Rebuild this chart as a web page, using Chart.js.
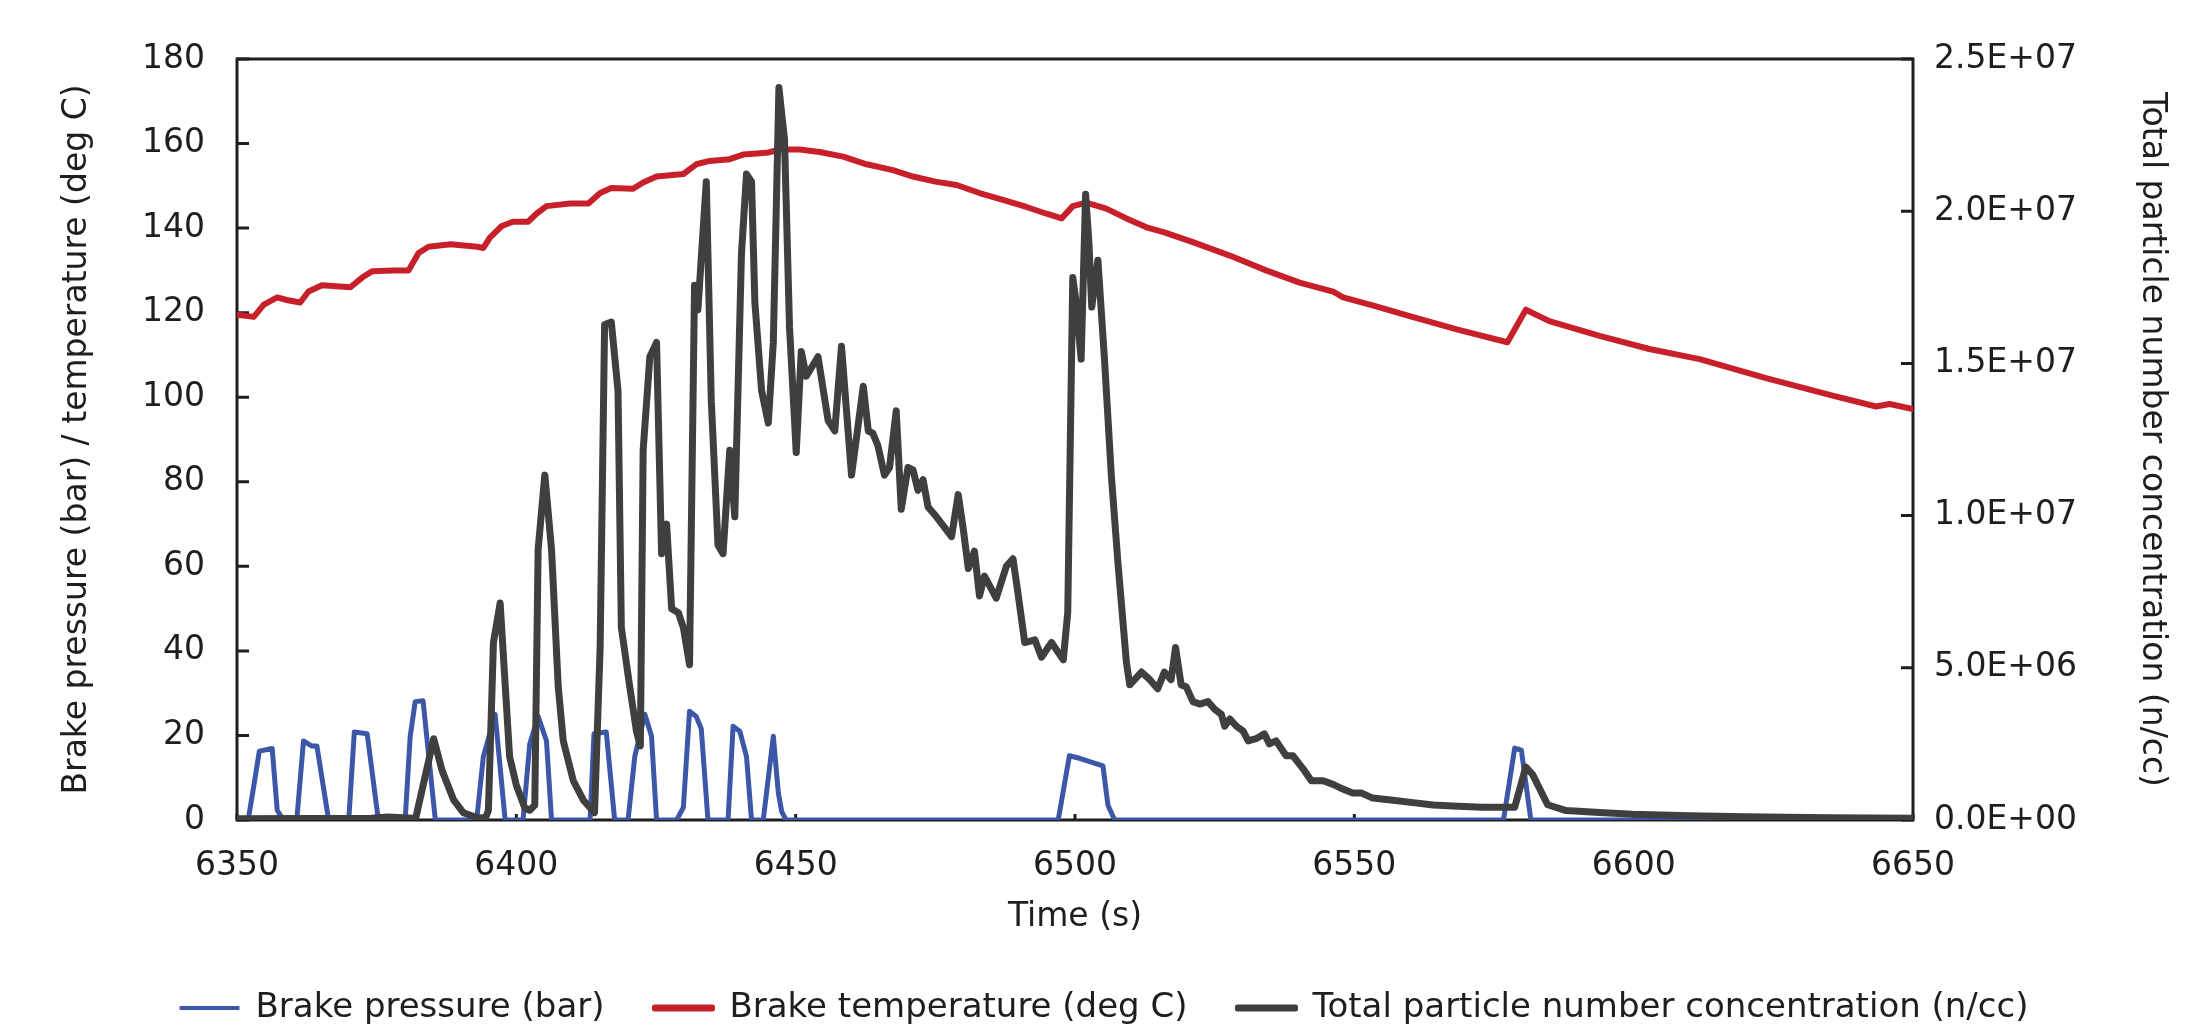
<!DOCTYPE html>
<html>
<head>
<meta charset="utf-8">
<script src="https://cdn.jsdelivr.net/npm/chart.js@4.4.1/dist/chart.umd.min.js"></script>
<style>
  html, body { margin: 0; padding: 0; background: #fff; }
  canvas { display: block; }
</style>
</head>
<body>
<canvas id="brakeChart" width="2209" height="1028"></canvas>
<script>
// brake pressure (bar)
const pressureTime = [6350, 6352, 6353, 6354, 6356.3, 6357.2, 6358.3, 6360.7, 6361.9, 6363.4, 6364.3, 6366.4,
  6370, 6371, 6373.3, 6375.3, 6380.1, 6381, 6381.9, 6383.3, 6385.5, 6392.9, 6394.1, 6396.2, 6398,
  6401.2, 6402.4, 6403.9, 6405.4, 6406.3, 6413.2, 6413.9, 6416.1, 6417.6, 6420, 6421.2, 6423, 6424.2, 6425.1,
  6428.7, 6429.9, 6431, 6432.2, 6433.1, 6434.3, 6437.9, 6438.8, 6440, 6441.2, 6442.1, 6444.2, 6446, 6446.9,
  6447.5, 6448.3, 6497, 6499, 6500.8, 6505, 6505.9, 6507.1, 6576.7, 6578.7, 6579.9, 6581.6, 6650];
const pressureBar = [0, 0, 8, 16.3, 16.9, 2.3, 0, 0, 18.7, 17.5, 17.5, 0,
  0, 20.8, 20.4, 0, 0, 19.8, 28, 28.2, 0, 0, 15, 25, 0,
  0, 18, 24.5, 18.7, 0, 0, 20.4, 20.8, 0, 0, 15, 25, 19.8, 0,
  0, 3, 25.7, 24.5, 21.6, 0, 0, 22.2, 21, 15, 0, 0, 19.8, 6.4,
  2, 0, 0, 15.2, 14.6, 12.8, 3.5, 0, 0, 17, 16.5, 0, 0];

// brake temperature (deg C)
const temperatureTime = [6350, 6353, 6354.8, 6357.2, 6358.9, 6361.3, 6362.8, 6365.2, 6370.3, 6372.4, 6374.2,
  6378, 6380.7, 6382.5, 6384.3, 6388.2, 6393, 6394.1, 6395.3, 6397.4, 6399.4, 6402.1, 6403.6, 6405.4,
  6409.6, 6412.9, 6415, 6417, 6420.9, 6422.7, 6425.1, 6429.9, 6432.2, 6434.6, 6438.2, 6440.6, 6444.8,
  6447.2, 6450.7, 6454.3, 6458.5, 6462.7, 6467.4, 6471, 6475, 6478.8, 6482.9, 6487.1, 6491.3, 6494.9,
  6497.6, 6499.6, 6502, 6505.6, 6509.2, 6512.8, 6516, 6521.1, 6527.7, 6534.2, 6540.2, 6546.2, 6548,
  6553.9, 6559.9, 6568.5, 6577.4, 6580.7, 6584.9, 6593.9, 6602.8, 6611.8, 6623.7, 6635.6, 6643.4,
  6645.8, 6650];
const temperatureC = [119.5, 119, 121.9, 123.6, 123, 122.4, 125, 126.5, 126, 128.3, 129.8,
  130, 130, 134.1, 135.6, 136.2, 135.6, 135.3, 137.8, 140.5, 141.5, 141.5, 143.4, 145.2,
  145.8, 145.8, 148.3, 149.5, 149.3, 150.8, 152.2, 152.8, 155.1, 155.9, 156.3, 157.4, 157.8,
  158.6, 158.6, 158, 156.9, 155.1, 153.7, 152.2, 151, 150.2, 148.3, 146.7, 145, 143.4,
  142.3, 145.2, 146, 144.6, 142.3, 140.2, 139, 136.7, 133.5, 130, 127.1, 125, 123.6,
  121.5, 119.2, 116, 113, 120.7, 118, 114.5, 111.4, 109, 104.5, 100.4, 97.8,
  98.4, 97.2];

// total particle number concentration (n/cc)
const particleTime = [6350, 6374, 6377, 6381.5, 6382, 6385.2, 6386.7, 6388.8, 6390.5, 6392.9, 6394.5, 6395,
  6395.9, 6397.1, 6398.8, 6400, 6401.5, 6402.4, 6403.3, 6403.9, 6405.1, 6406.3, 6407.5, 6408.4, 6410.2,
  6412, 6414, 6415, 6415.8, 6417, 6418.2, 6418.8, 6420.3, 6421.5, 6422.2, 6422.7, 6423.9, 6425.1, 6426,
  6426.9, 6427.8, 6429, 6429.9, 6431, 6431.9, 6432.5, 6434, 6434.9, 6436.1, 6437, 6438.2, 6439.1, 6440.3,
  6441.2, 6442.1, 6442.7, 6443.9, 6445.1, 6446, 6447, 6448, 6448.9, 6450.1, 6451, 6451.9, 6454, 6455.8,
  6457, 6458.2, 6460, 6462.1, 6463, 6463.8, 6464.7, 6465.9, 6466.8, 6468, 6468.9, 6470.1, 6471, 6471.9,
  6472.8, 6473.7, 6475.2, 6477.9, 6479.1, 6480, 6480.9, 6482, 6482.9, 6483.8, 6485.9, 6487.7, 6488.9,
  6489.8, 6491, 6492.8, 6494, 6495.8, 6497.9, 6498.7, 6499.6, 6500.2, 6501.1, 6501.9, 6502.5, 6503,
  6504.1, 6505.3, 6506.5, 6507.7, 6509.2, 6509.8, 6511.9, 6513.4, 6514.8, 6516, 6517.2, 6518, 6519,
  6519.9, 6521.1, 6522.3, 6523.8, 6525, 6526.2, 6526.8, 6527.7, 6528.9, 6530.1, 6531, 6532.4, 6533.9,
  6534.8, 6536, 6537.8, 6539, 6540.8, 6542.3, 6544.4, 6546.2, 6547.4, 6549.7, 6551.2, 6553.3, 6556.9,
  6560.5, 6564.1, 6567.6, 6572.9, 6578.7, 6580.7, 6581.9, 6584.6, 6587.9, 6593.9, 6599.8, 6610, 6620,
  6635, 6650];
const particleCount = [0.04e6, 0.06e6, 0.10e6, 0.06e6, 0.07e6, 2.67e6, 1.63e6, 0.65e6, 0.24e6, 0.08e6, 0.07e6, 0.32e6,
  5.83e6, 7.13e6, 2.08e6, 1.14e6, 0.40e6, 0.32e6, 0.49e6, 8.89e6, 11.33e6, 8.89e6, 4.38e6, 2.60e6, 1.29e6,
  0.65e6, 0.24e6, 5.67e6, 16.28e6, 16.36e6, 14.10e6, 6.32e6, 4.38e6, 2.92e6, 2.43e6, 12.15e6, 15.22e6, 15.69e6, 8.75e6,
  9.72e6, 6.94e6, 6.81e6, 6.32e6, 5.10e6, 17.57e6, 16.76e6, 20.97e6, 13.75e6, 9.03e6, 8.75e6, 12.15e6, 9.96e6, 18.61e6,
  21.22e6, 20.97e6, 17.00e6, 14.10e6, 13.04e6, 15.69e6, 24.06e6, 22.36e6, 16.19e6, 12.07e6, 15.39e6, 14.58e6, 15.22e6, 13.13e6,
  12.78e6, 15.56e6, 11.33e6, 14.25e6, 12.78e6, 12.71e6, 12.31e6, 11.33e6, 11.58e6, 13.44e6, 10.21e6, 11.58e6, 11.50e6, 10.83e6,
  11.18e6, 10.28e6, 9.96e6, 9.31e6, 10.69e6, 9.56e6, 8.26e6, 8.83e6, 7.36e6, 8.01e6, 7.29e6, 8.33e6, 8.58e6,
  7.44e6, 5.83e6, 5.92e6, 5.35e6, 5.83e6, 5.26e6, 6.81e6, 17.82e6, 17.00e6, 15.14e6, 20.56e6, 18.94e6, 16.85e6,
  18.39e6, 15.07e6, 11.33e6, 8.42e6, 5.18e6, 4.44e6, 4.86e6, 4.61e6, 4.31e6, 4.86e6, 4.61e6, 5.67e6, 4.44e6,
  4.38e6, 3.89e6, 3.81e6, 3.89e6, 3.64e6, 3.47e6, 3.08e6, 3.32e6, 3.08e6, 2.92e6, 2.60e6, 2.67e6, 2.83e6,
  2.50e6, 2.60e6, 2.11e6, 2.11e6, 1.69e6, 1.29e6, 1.29e6, 1.17e6, 1.06e6, 0.89e6, 0.89e6, 0.72e6, 0.65e6,
  0.57e6, 0.49e6, 0.46e6, 0.42e6, 0.42e6, 1.74e6, 1.50e6, 0.50e6, 0.31e6, 0.25e6, 0.19e6, 0.14e6, 0.11e6,
  0.07e6, 0.06e6];

const seriesNames = ['Brake pressure (bar)', 'Brake temperature (deg C)', 'Total particle number concentration (n/cc)'];

const FONT = "'DejaVu Sans', sans-serif";
const INK = '#1E1E1E';

const toPoints = (xs, ys) => xs.map((x, i) => ({ x, y: ys[i] }));

// "2.5E+07" style labels
const sciLabel = v => v.toExponential(1).toUpperCase().replace(/E([+-])(\d)$/, 'E$10$2');

// plot frame + inward tick marks, drawn under the lines
const frameTicks = {
  id: 'frameTicks',
  beforeDatasetsDraw(chart) {
    const { ctx, chartArea: a, scales } = chart;
    ctx.save();
    ctx.strokeStyle = INK;
    ctx.lineWidth = 3;
    ctx.strokeRect(a.left, a.top, a.right - a.left, a.bottom - a.top);
    ctx.beginPath();
    scales.y.ticks.forEach(t => {
      const py = scales.y.getPixelForValue(t.value);
      ctx.moveTo(a.left, py); ctx.lineTo(a.left + 12, py);
    });
    scales.y2.ticks.forEach(t => {
      const py = scales.y2.getPixelForValue(t.value);
      ctx.moveTo(a.right, py); ctx.lineTo(a.right - 12, py);
    });
    scales.x.ticks.forEach(t => {
      const px = scales.x.getPixelForValue(t.value);
      ctx.moveTo(px, a.bottom); ctx.lineTo(px, a.bottom - 6);
    });
    ctx.stroke();
    ctx.restore();
  }
};

new Chart(document.getElementById('brakeChart'), {
  type: 'line',
  data: {
    datasets: [{
      label: seriesNames[0],
      data: toPoints(pressureTime, pressureBar),
      yAxisID: 'y',
      borderColor: '#3C56A8',
      backgroundColor: '#3C56A8',
      borderWidth: 5,
      order: 3,
    }, {
      label: seriesNames[1],
      data: toPoints(temperatureTime, temperatureC),
      yAxisID: 'y',
      borderColor: '#C8202A',
      backgroundColor: '#C8202A',
      borderWidth: 6,
      order: 2,
    }, {
      label: seriesNames[2],
      data: toPoints(particleTime, particleCount),
      yAxisID: 'y2',
      borderColor: '#3F3F3F',
      backgroundColor: '#3F3F3F',
      borderWidth: 7,
      order: 1,
    }],
  },
  options: {
    responsive: false,
    devicePixelRatio: 1,
    animation: false,
    elements: {
      point: { radius: 0 },
      line: { tension: 0, borderJoinStyle: 'round', borderCapStyle: 'round' },
    },
    layout: { padding: { top: 59, left: 0, right: 0, bottom: -7 } },
    plugins: {
      tooltip: { enabled: false },
      legend: {
        position: 'bottom',
        labels: {
          color: INK,
          font: { family: FONT, size: 34 },
          boxWidth: 58,
          boxHeight: 2,
          padding: 50,
          sort: (a, b) => a.datasetIndex - b.datasetIndex,
          generateLabels: chart => Chart.defaults.plugins.legend.labels.generateLabels(chart).map(item => ({
            ...item,
            lineWidth: item.datasetIndex === 0 ? 2 : 5,
            lineCap: 'round',
          })),
        },
      },
    },
    scales: {
      x: {
        type: 'linear',
        min: 6350,
        max: 6650,
        afterFit: s => { s.height = 121; },
        ticks: {
          stepSize: 50,
          padding: 27,
          color: INK,
          font: { family: FONT, size: 33 },
          callback: v => String(v),
        },
        grid: { display: false, drawTicks: false },
        border: { display: false },
        title: {
          display: true,
          text: 'Time (s)',
          color: INK,
          font: { family: FONT, size: 33 },
          padding: { top: 0, bottom: 4 },
        },
      },
      y: {
        position: 'left',
        min: 0,
        max: 180,
        afterFit: s => { s.width = 237; },
        ticks: {
          stepSize: 20,
          padding: 32,
          color: INK,
          font: { family: FONT, size: 33 },
        },
        grid: { display: false, drawTicks: false },
        border: { display: false },
        title: {
          display: true,
          text: 'Brake pressure (bar) / temperature (deg C)',
          color: INK,
          font: { family: FONT, size: 33 },
          padding: { top: 58, bottom: 0 },
        },
      },
      y2: {
        position: 'right',
        min: 0,
        max: 2.5e7,
        afterFit: s => { s.width = 296; },
        ticks: {
          stepSize: 5e6,
          padding: 21,
          color: INK,
          font: { family: FONT, size: 33 },
          callback: v => sciLabel(v),
        },
        grid: { display: false, drawTicks: false },
        border: { display: false },
        title: {
          display: true,
          text: 'Total particle number concentration (n/cc)',
          color: INK,
          font: { family: FONT, size: 33 },
          padding: { top: 38, bottom: 0 },
        },
      },
    },
  },
  plugins: [frameTicks],
});
</script>
</body>
</html>
